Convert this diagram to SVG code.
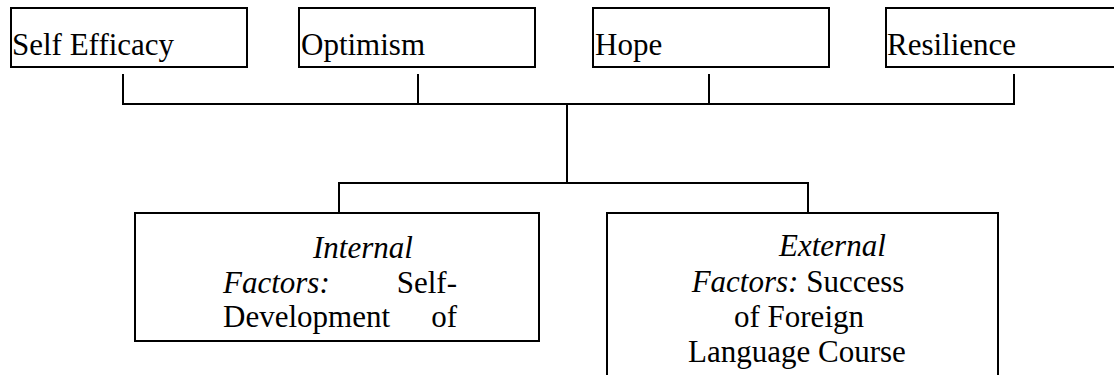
<svg xmlns="http://www.w3.org/2000/svg" width="1114" height="375" viewBox="0 0 1114 375">
<style>
.box{fill:#fff;stroke:#000;stroke-width:2}
.c{fill:none;stroke:#000;stroke-width:2;stroke-linecap:square}
text{font-family:'Times New Roman','Liberation Serif',Tinos,'Noto Serif','DejaVu Serif',serif;font-size:31px;fill:#000}
</style>
<rect width="1114" height="375" fill="#fff"/>
<g id="connectors">
<path class="c" d="M123 75V104M418 75V104M709 75V104M1014 75V104M123 104H1014M567 104V183M339 183H808M339 183V212M808 183V212"/>
</g>
<g id="self-efficacy">
<rect class="box" x="11" y="8" width="236" height="59"/>
<text x="12" y="55">Self Efficacy</text>
</g>
<g id="optimism">
<rect class="box" x="299" y="8" width="236" height="59"/>
<text x="301" y="55">Optimism</text>
</g>
<g id="hope">
<rect class="box" x="593" y="8" width="236" height="59"/>
<text x="595" y="55">Hope</text>
</g>
<g id="resilience">
<rect class="box" x="886" y="8" width="240" height="59"/>
<text x="887" y="55">Resilience</text>
</g>
<g id="internal-factors">
<rect class="box" x="135" y="213" width="404" height="128"/>
<text x="313" y="258" font-style="italic">Internal</text>
<text x="223" y="293" font-style="italic">Factors:</text>
<text x="457" y="293" text-anchor="end">Self-</text>
<text x="223" y="327">Development</text>
<text x="457" y="327" text-anchor="end">of</text>
</g>
<g id="external-factors">
<rect class="box" x="607" y="213" width="391" height="170"/>
<text x="779" y="256" font-style="italic">External</text>
<text x="798" y="292" text-anchor="middle"><tspan font-style="italic">Factors:</tspan> Success</text>
<text x="799" y="327" text-anchor="middle">of Foreign</text>
<text x="797" y="362" text-anchor="middle">Language Course</text>
</g>
</svg>
